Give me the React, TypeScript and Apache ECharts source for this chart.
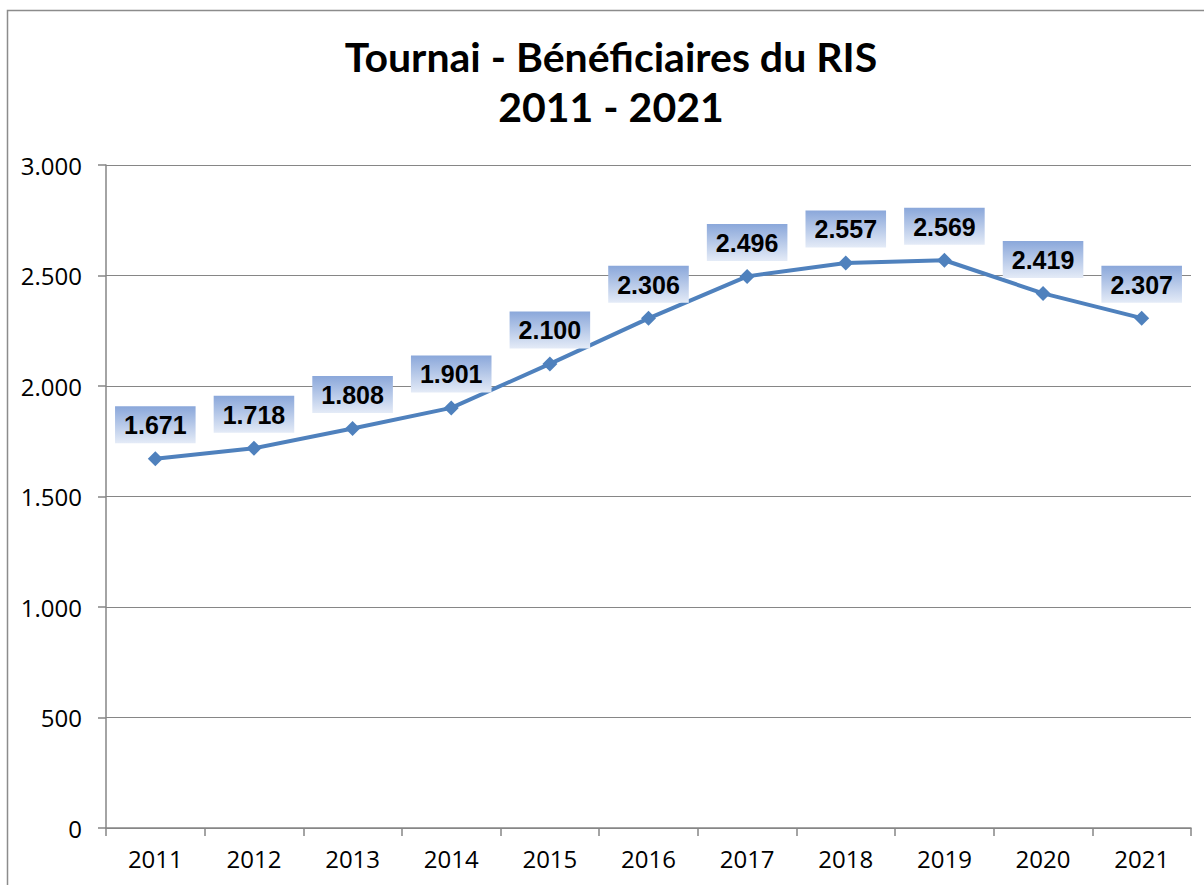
import React, { useEffect, useRef } from "react";
import * as echarts from "echarts";

const titleLines = ["Tournai - Bénéficiaires du RIS", "2011 - 2021"];
const years = ["2011", "2012", "2013", "2014", "2015", "2016", "2017", "2018", "2019", "2020", "2021"];
const beneficiaries = [1671, 1718, 1808, 1901, 2100, 2306, 2496, 2557, 2569, 2419, 2307];

const fmt = (v: number) => {
  const s = String(Math.round(v));
  return s.replace(/\B(?=(\d{3})+(?!\d))/g, ".");
};

export default function App() {
  const ref = useRef<HTMLDivElement>(null);
  useEffect(() => {
    document.body.style.margin = "0";
    const chart = echarts.init(ref.current!, null, { renderer: "svg" });
    const grad = new echarts.graphic.LinearGradient(0, 0, 0, 1, [
      { offset: 0, color: "#8aa7da" },
      { offset: 1, color: "#e4ebf7" },
    ]);
    const titleStyle = {
      fontFamily: "Lato, 'Open Sans', sans-serif",
      fontWeight: "bold",
      fontSize: 41,
      fill: "#000",
      textAlign: "center",
      textVerticalAlign: "middle",
    };
    chart.setOption({
      animation: false,
      backgroundColor: "#ffffff",
      graphic: [
        {
          type: "rect",
          shape: { x: 7.5, y: 10.5, width: 1300, height: 1000 },
          style: { fill: "none", stroke: "#8c8c8c", lineWidth: 1.5 },
          silent: true,
          z: -1,
        },
        { type: "text", x: 611, y: 56, style: { ...titleStyle, text: titleLines[0] } },
        { type: "text", x: 611, y: 106, style: { ...titleStyle, text: titleLines[1] } },
      ],
      grid: { left: 106, top: 165, right: 13, bottom: 57 },
      xAxis: {
        type: "category",
        data: years,
        boundaryGap: true,
        axisLine: { lineStyle: { color: "#868686", width: 1.5 } },
        axisTick: { show: true, length: 8, lineStyle: { color: "#868686", width: 1.5 } },
        axisLabel: {
          color: "#000",
          fontSize: 24,
          fontFamily: "'Open Sans', Lato, sans-serif",
          margin: 18,
        },
      },
      yAxis: {
        type: "value",
        min: 0,
        max: 3000,
        interval: 500,
        axisLine: { show: true, lineStyle: { color: "#868686", width: 1.5 } },
        axisTick: { show: true, length: 8, lineStyle: { color: "#868686", width: 1.5 } },
        splitLine: { lineStyle: { color: "#868686", width: 1.2 } },
        axisLabel: {
          color: "#000",
          fontSize: 24,
          fontFamily: "'Open Sans', Lato, sans-serif",
          margin: 24,
          formatter: (v: number) => fmt(v),
        },
      },
      series: [
        {
          type: "line",
          data: beneficiaries,
          symbol: "diamond",
          symbolSize: 15,
          lineStyle: { color: "#4f81bd", width: 4 },
          itemStyle: { color: "#4f81bd" },
          label: {
            show: true,
            position: "top",
            distance: 8,
            formatter: (p: any) => fmt(p.value),
            fontFamily: "'Liberation Sans', Arial, sans-serif",
            fontWeight: "bold",
            fontSize: 25,
            lineHeight: 26,
            color: "#000",
            backgroundColor: grad,
            padding: [6, 9, 5, 9],
          },
          z: 3,
        },
      ],
    });
    return () => chart.dispose();
  }, []);
  return <div ref={ref} style={{ width: 1204, height: 885 }} />;
}
